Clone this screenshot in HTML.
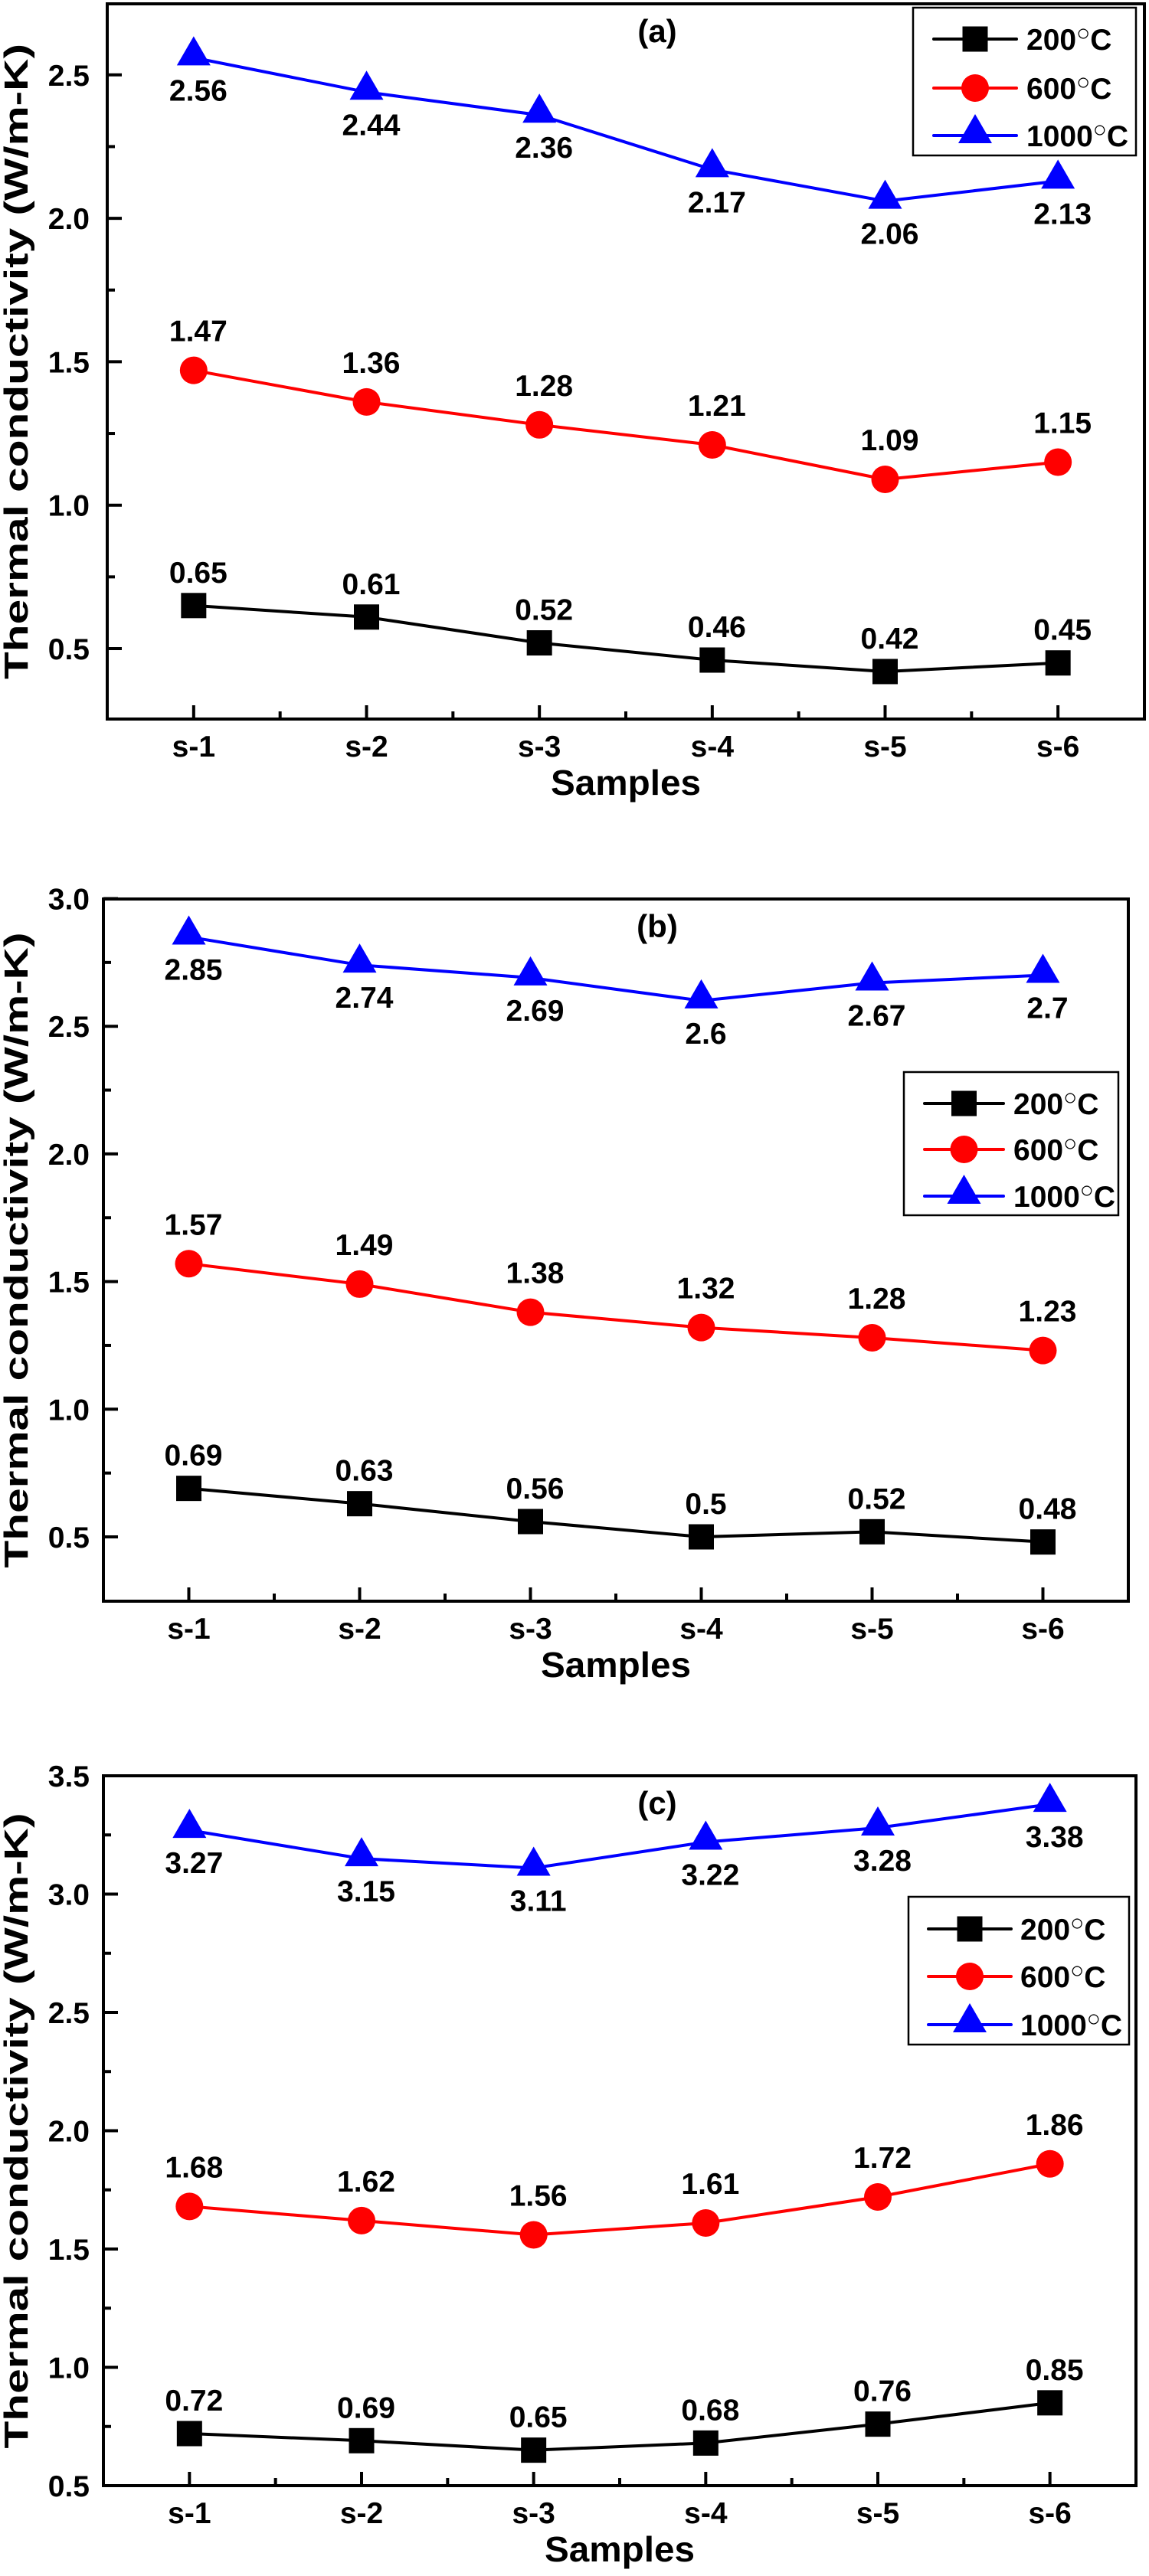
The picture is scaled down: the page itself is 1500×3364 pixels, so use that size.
<!DOCTYPE html>
<html><head><meta charset="utf-8"><style>
html,body{margin:0;padding:0;background:#fff;}
svg{display:block;font-family:"Liberation Sans",Arial,sans-serif;font-weight:bold;}
</style></head>
<body>
<svg id="fig" width="1500" height="3364" viewBox="0 0 1500 3364" xmlns="http://www.w3.org/2000/svg"></svg>
<script>
const categories = ["s-1","s-2","s-3","s-4","s-5","s-6"];
const seriesNames = ["200°C","600°C","1000°C"];
const a200 = [0.65,0.61,0.52,0.46,0.42,0.45];
const a600 = [1.47,1.36,1.28,1.21,1.09,1.15];
const a1000 = [2.56,2.44,2.36,2.17,2.06,2.13];
const b200 = [0.69,0.63,0.56,0.5,0.52,0.48];
const b600 = [1.57,1.49,1.38,1.32,1.28,1.23];
const b1000 = [2.85,2.74,2.69,2.6,2.67,2.7];
const c200 = [0.72,0.69,0.65,0.68,0.76,0.85];
const c600 = [1.68,1.62,1.56,1.61,1.72,1.86];
const c1000 = [3.27,3.15,3.11,3.22,3.28,3.38];
const aTicks = [0.5,1.0,1.5,2.0,2.5];
const bTicks = [0.5,1.0,1.5,2.0,2.5,3.0];
const cTicks = [0.5,1.0,1.5,2.0,2.5,3.0,3.5];

const NS="http://www.w3.org/2000/svg";
const svg=document.getElementById('fig');
function mk(tag,attrs,parent,text){const e=document.createElementNS(NS,tag);for(const k in attrs)e.setAttribute(k,attrs[k]);if(text!==undefined)e.textContent=text;(parent||svg).appendChild(e);return e;}
const colors=["#000","#f00","#00f"];

const panels=[
 {id:"a",L:140,R:1494,T:5,B:939,y0:0.5,py0:847,ppu:374.6,ticks:aTicks,data:[a200,a600,a1000],leg:{x:1192,y:10,w:291,h:193,rows:[51,115,177],lx1:1219,lx2:1327,tx:1340}},
 {id:"b",L:135,R:1473,T:1174,B:2091,y0:0.5,py0:2007,ppu:333.4,ticks:bTicks,data:[b200,b600,b1000],leg:{x:1180,y:1400,w:280,h:187,rows:[1441,1501,1562],lx1:1207,lx2:1310,tx:1323}},
 {id:"c",L:135,R:1483,T:2319,B:3246,y0:0.5,py0:3246,ppu:309,ticks:cTicks,data:[c200,c600,c1000],leg:{x:1186,y:2477,w:288,h:193,rows:[2519,2581,2644],lx1:1212,lx2:1320,tx:1332}}
];

function marker(g,k,x,y){
  let m;
  if(k===0) m=mk('rect',{x:x-16.5,y:y-16.5,width:33,height:33,fill:"#000"},g);
  else if(k===1) m=mk('circle',{cx:x,cy:y,r:18,fill:"#f00"},g);
  else m=mk('polygon',{points:`${x},${y-28} ${x+22},${y+10} ${x-22},${y+10}`,fill:"#00f"},g);
  return m;
}

panels.forEach(p=>{
  const g=mk('g',{});
  
  
  const step=(p.R-p.L)/6;
  const xs=i=>p.L+step*(i+0.5);
  const ys=v=>p.py0-(v-p.y0)*p.ppu;
  const fr=mk('rect',{x:p.L,y:p.T,width:p.R-p.L,height:p.B-p.T,fill:"none",stroke:"#000","stroke-width":4},g);
  
  
  p.ticks.forEach((t,i)=>{
    const y=ys(t);
    mk('line',{x1:p.L,x2:p.L+19,y1:y,y2:y,stroke:"#000","stroke-width":4},g);
    const tl=mk('text',{x:117,y:y+14,"text-anchor":"end","font-size":39},g,t.toFixed(1));
    
    
    const ym=ys(t+0.25);
    if(ym>p.T+5) mk('line',{x1:p.L,x2:p.L+10,y1:ym,y2:ym,stroke:"#000","stroke-width":4},g);
  });
  const yb=ys(p.ticks[0]-0.25);
  if(yb<p.B-5) mk('line',{x1:p.L,x2:p.L+10,y1:yb,y2:yb,stroke:"#000","stroke-width":4},g);
  categories.forEach((c,i)=>{
    const x=xs(i);
    mk('line',{x1:x,x2:x,y1:p.B,y2:p.B-18,stroke:"#000","stroke-width":4},g);
    if(i<5) mk('line',{x1:x+step/2,x2:x+step/2,y1:p.B,y2:p.B-10,stroke:"#000","stroke-width":4},g);
    const xl=mk('text',{x:x,y:p.B+49,"text-anchor":"middle","font-size":39},g,c);
    
    
  });
  const xt=mk('text',{x:(p.L+p.R)/2,y:p.B+99,"text-anchor":"middle","font-size":46,textLength:196,lengthAdjust:"spacingAndGlyphs"},g,"Samples");
  
  
  const cy=(p.T+p.B)/2;
  const yt=mk('text',{x:0,y:0,"text-anchor":"middle","font-size":44,textLength:Math.min(830,p.B-p.T-40),lengthAdjust:"spacingAndGlyphs",transform:`translate(36,${cy}) rotate(-90)`},g,"Thermal conductivity (W/m-K)");
  
  
  const pt=mk('text',{x:858,y:p.T+50,"text-anchor":"middle","font-size":42},g,"("+p.id+")");
  
  
  p.data.forEach((arr,k)=>{
    const pts=arr.map((v,i)=>xs(i)+","+ys(v)).join(" ");
    const ln=mk('polyline',{points:pts,fill:"none",stroke:colors[k],"stroke-width":4},g);
    
    
    arr.forEach((v,i)=>{
      const m=marker(g,k,xs(i),ys(v));
      
      
      const off=k===0?-30:(k===1?-38:56);
      const dl=mk('text',{x:xs(i)+6,y:ys(v)+off,"text-anchor":"middle","font-size":39},g,String(v));
      
      
    });
  });
  const L=p.leg;
  const lg=mk('g',{},g);
  
  
  mk('rect',{x:L.x,y:L.y,width:L.w,height:L.h,fill:"#fff",stroke:"#000","stroke-width":2.5},lg);
  seriesNames.forEach((n,k)=>{
    const y=L.rows[k];
    const e=mk('g',{},lg);
    
    
    mk('line',{x1:L.lx1,x2:L.lx2,y1:y,y2:y,stroke:colors[k],"stroke-width":4,"stroke-linecap":"round"},e);
    marker(e,k,(L.lx1+L.lx2)/2,y);
    const num=n.replace('°C','');
    const t=mk('text',{x:L.tx,y:y+14,"font-size":39},e);
    mk('tspan',{},t,num);
    mk('tspan',{"font-weight":"normal","font-size":30,dy:-12},t,"○");
    mk('tspan',{dy:12},t,"C");
  });
});
</script>
</body></html>
